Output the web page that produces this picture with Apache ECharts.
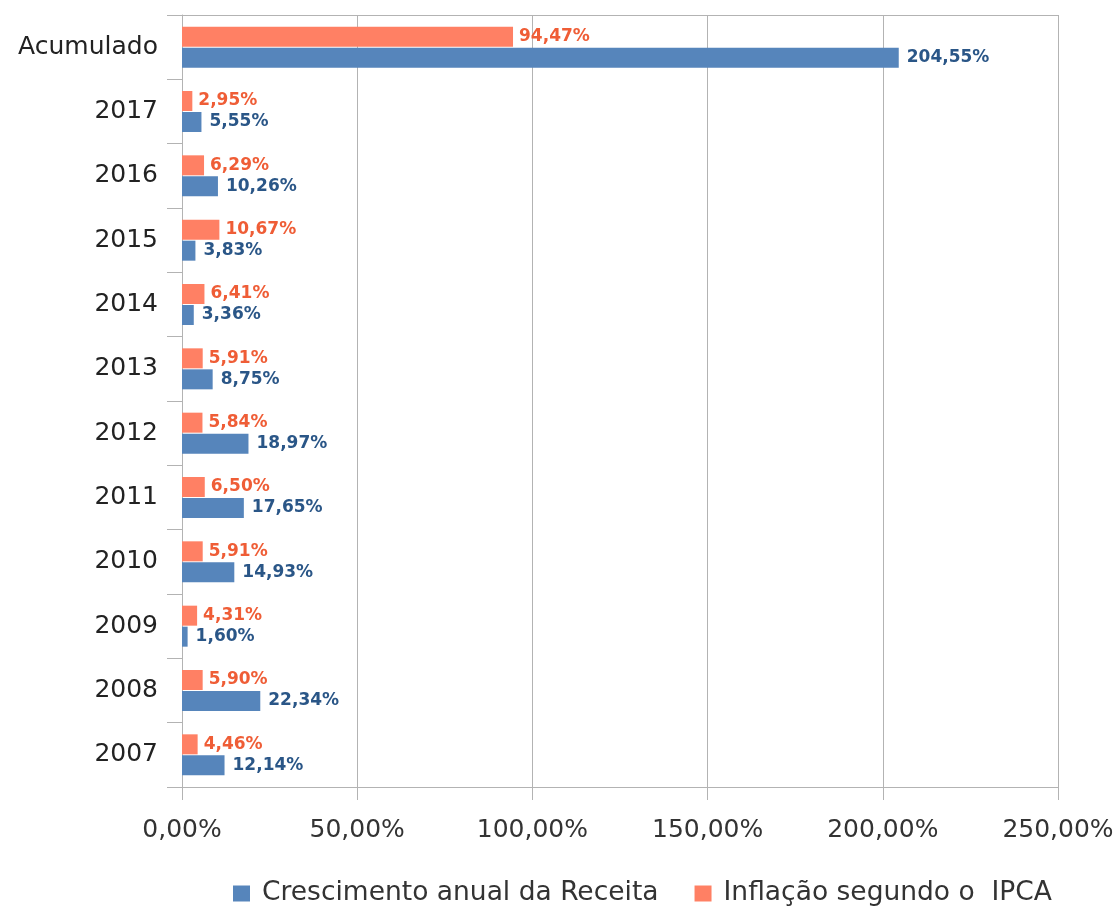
<!DOCTYPE html>
<html>
<head>
<meta charset="utf-8">
<script src="https://cdn.jsdelivr.net/npm/echarts@6/dist/echarts.min.js"></script>
<style>
  html, body { margin: 0; padding: 0; background: #ffffff; }
  #chart { width: 1119px; height: 909px; }
</style>
</head>
<body>
<div id="chart"></div>
<script>
// Categories, bottom to top on the vertical axis
const categories = ['2007', '2008', '2009', '2010', '2011', '2012', '2013', '2014', '2015', '2016', '2017', 'Acumulado'];
// Annual revenue growth (%)
const receita = [12.14, 22.34, 1.60, 14.93, 17.65, 18.97, 8.75, 3.36, 3.83, 10.26, 5.55, 204.55];
// IPCA inflation (%)
const ipca = [4.46, 5.90, 4.31, 5.91, 6.50, 5.84, 5.91, 6.41, 10.67, 6.29, 2.95, 94.47];
// Value axis ticks
const xTicks = [0, 50, 100, 150, 200, 250];

const NAME_RECEITA = 'Crescimento anual da Receita';
const NAME_IPCA = 'Inflação segundo o  IPCA';

const FONT = 'DejaVu Sans';
const GRID_COLOR = '#b3b3b3';
const pct = v => Number(v).toFixed(2).replace('.', ',') + '%';

const chart = echarts.init(document.getElementById('chart'), null, { renderer: 'canvas' });

function barLabel(color, distance) {
  return {
    show: true,
    position: 'right',
    distance: distance,
    formatter: p => pct(p.value),
    fontFamily: FONT,
    fontWeight: 'bold',
    fontSize: 17,
    color: color
  };
}

chart.setOption({
  backgroundColor: '#ffffff',
  animation: false,
  grid: { left: 182, right: 61, top: 15, bottom: 122, containLabel: false },
  legend: {
    data: [NAME_RECEITA, NAME_IPCA],
    left: 233,
    top: 880,
    padding: 0,
    icon: 'rect',
    itemWidth: 17,
    itemHeight: 16,
    itemGap: 36,
    textStyle: { fontFamily: FONT, fontSize: 26.5, color: '#333333', padding: [0, 0, 0, 7] }
  },
  xAxis: [
    {
      type: 'value',
      min: xTicks[0],
      max: xTicks[xTicks.length - 1],
      interval: 50,
      axisLine: { show: true, lineStyle: { color: GRID_COLOR, width: 1 } },
      axisTick: { show: true, length: 13, lineStyle: { color: GRID_COLOR } },
      splitLine: { show: true, lineStyle: { color: GRID_COLOR, width: 1 } },
      axisLabel: { formatter: v => pct(v), fontFamily: FONT, fontSize: 25, color: '#333333', margin: 31 }
    },
    {
      type: 'value',
      position: 'top',
      min: xTicks[0],
      max: xTicks[xTicks.length - 1],
      interval: 50,
      axisLine: { show: true, lineStyle: { color: GRID_COLOR, width: 1 } },
      axisTick: { show: false },
      splitLine: { show: false },
      axisLabel: { show: false }
    }
  ],
  yAxis: {
    type: 'category',
    data: categories,
    axisLine: { show: true, lineStyle: { color: GRID_COLOR, width: 1 } },
    axisTick: { show: true, length: 15, lineStyle: { color: GRID_COLOR } },
    axisLabel: { fontFamily: FONT, fontSize: 25, color: '#222222', margin: 24 }
  },
  // Inflation is listed first so its bar sits above the revenue bar in each row
  series: [
    {
      name: NAME_IPCA,
      type: 'bar',
      data: ipca,
      barWidth: 20,
      barGap: '5%',
      itemStyle: { color: '#ff8064' },
      label: barLabel('#ef5d36', 6)
    },
    {
      name: NAME_RECEITA,
      type: 'bar',
      data: receita,
      barWidth: 20,
      barGap: '5%',
      itemStyle: { color: '#5685bb' },
      label: barLabel('#2a5687', 8)
    }
  ]
});
</script>
</body>
</html>
